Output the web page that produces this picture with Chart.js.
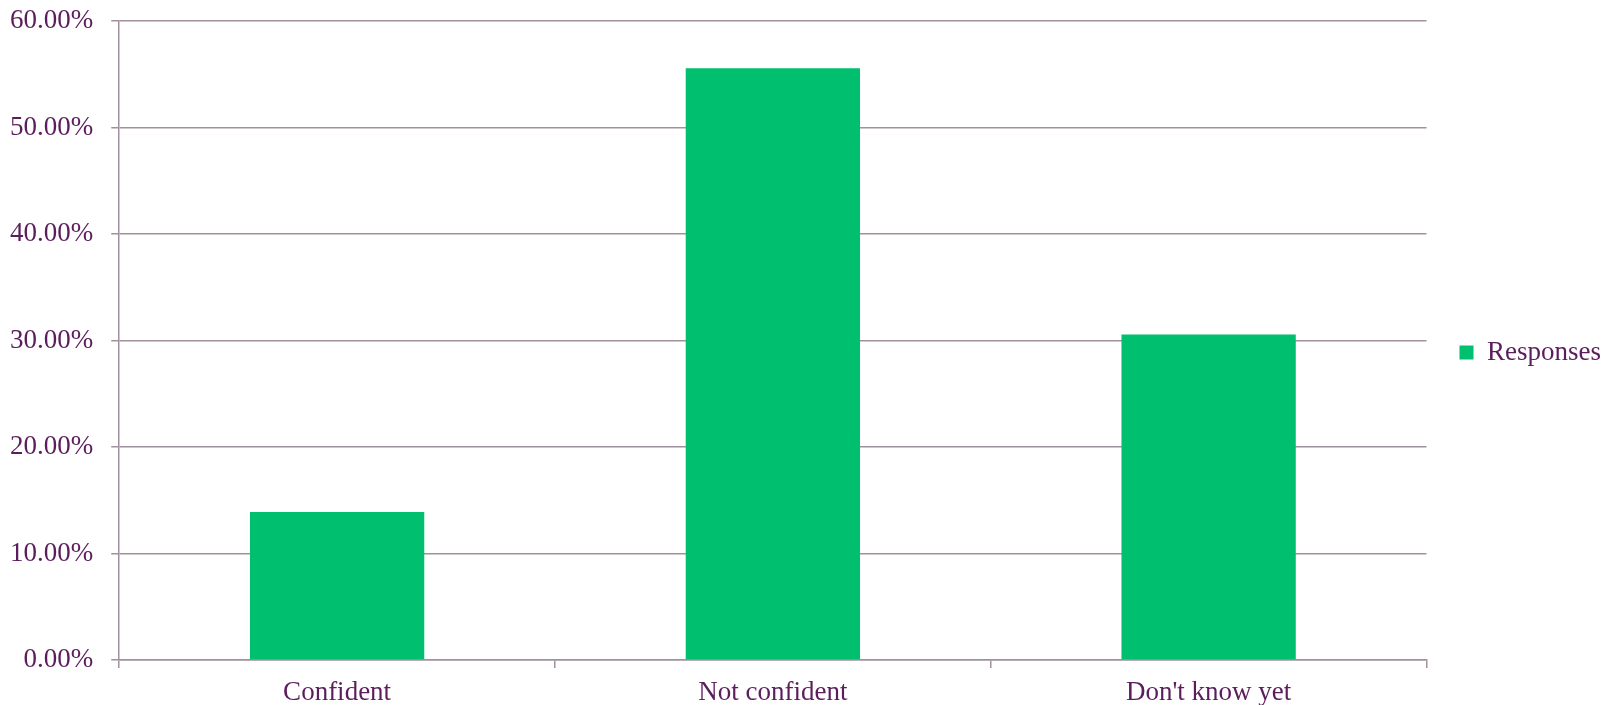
<!DOCTYPE html>
<html>
<head>
<meta charset="utf-8">
<script src="https://cdn.jsdelivr.net/npm/chart.js@4/dist/chart.umd.min.js"></script>
<style>
  html, body { margin: 0; padding: 0; background: #fff; }
  #wrap { width: 1611px; height: 705px; }
</style>
</head>
<body>
<div id="wrap"><canvas id="chart"></canvas></div>
<script>
const categories = ["Confident", "Not confident", "Don't know yet"];
const responses = [13.89, 55.56, 30.56];
const seriesName = "Responses";

const textColor = "#5b1d5c";
const gridColor = "#a1919f";
const barColor = "#00bf6f";
const fontFamily = "'Liberation Serif', 'Times New Roman', serif";
const fontSize = 27;

const ctx = document.getElementById("chart").getContext("2d");

new Chart(ctx, {
    type: "bar",
    data: {
        labels: categories,
        datasets: [
            {
                label: seriesName,
                data: responses,
                backgroundColor: barColor,
                barPercentage: 0.4,
                categoryPercentage: 1.0
            }
        ]
    },
    options: {
        responsive: true,
        maintainAspectRatio: false,
        animation: false,
        layout: {
            padding: { left: -8, right: 0, top: 0, bottom: 0 }
        },
        plugins: {
            tooltip: { enabled: false },
            legend: {
                position: "right",
                labels: {
                    color: textColor,
                    font: { family: fontFamily, size: fontSize },
                    boxWidth: 14,
                    boxHeight: 14,
                    padding: 33
                }
            }
        },
        scales: {
            x: {
                grid: {
                    offset: true,
                    drawOnChartArea: false,
                    color: gridColor,
                    lineWidth: 1.5,
                    tickLength: 8
                },
                border: { color: gridColor, width: 1.5 },
                ticks: {
                    color: textColor,
                    font: { family: fontFamily, size: fontSize },
                    padding: 9
                },
                afterFit: scale => { scale.height = 45; }
            },
            y: {
                min: 0,
                max: 60,
                grid: {
                    color: gridColor,
                    lineWidth: 1.5,
                    tickLength: 8
                },
                border: { color: gridColor, width: 1.5 },
                ticks: {
                    stepSize: 10,
                    color: textColor,
                    font: { family: fontFamily, size: fontSize },
                    padding: 18,
                    callback: v => v.toFixed(2) + "%"
                },
                afterFit: scale => { scale.paddingTop = 21; scale.paddingBottom = 0; }
            }
        }
    }
});
</script>
</body>
</html>
